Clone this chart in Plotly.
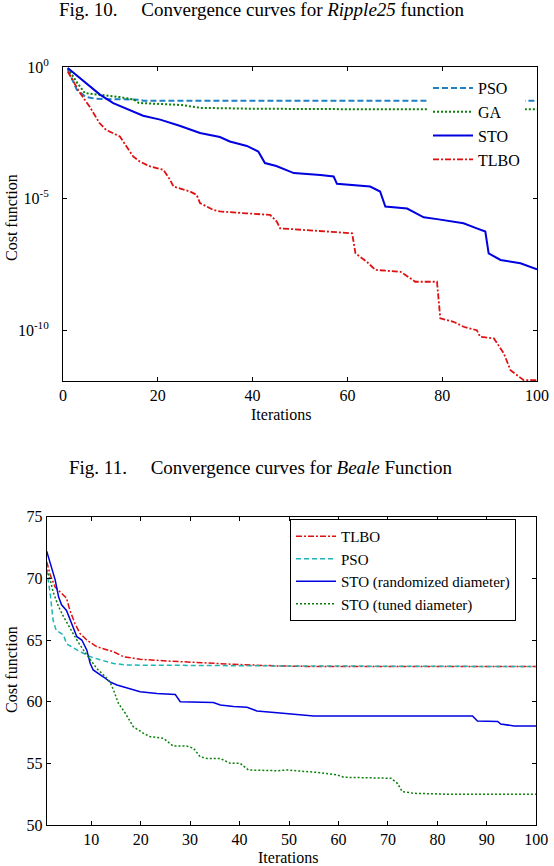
import plotly.graph_objects as go

# ---- Fig. 10: Ripple25 (log scale cost) ----
pso_it = [1, 2.9, 4.8, 7, 16, 17, 100]
pso_cost = [0.83, 0.138, 0.0724, 0.0617, 0.0575, 0.0525, 0.0525]

ga_it = [1, 3, 4.6, 8, 12, 15, 16, 25, 29, 40, 60, 100]
ga_cost = [0.9, 0.25, 0.102, 0.087, 0.072, 0.0575, 0.043, 0.036, 0.028, 0.026, 0.025, 0.025]

sto_it = [1, 3.6, 5.6, 7.8, 10.6, 13.4, 16.9, 20.5, 24.6, 28.9, 33.1, 35.2, 38.8,
          41.2, 42.6, 45, 48.7, 54.3, 57.1, 57.8, 64.8, 66.9, 68, 72.6, 76.1, 78.9,
          84.5, 87.3, 89.1, 89.8, 92.3, 96.5, 100]
sto_cost = [0.912, 0.380, 0.182, 0.0891, 0.0427, 0.0257, 0.0141, 0.0100, 5.89e-3,
            3.09e-3, 2.19e-3, 1.48e-3, 1.0e-3, 6.17e-4, 2.24e-4, 1.74e-4, 9.33e-5,
            7.94e-5, 6.92e-5, 3.63e-5, 2.88e-5, 1.86e-5, 5.01e-6, 4.17e-6, 1.95e-6,
            1.66e-6, 1.15e-6, 7.41e-7, 5.62e-7, 8.32e-8, 4.68e-8, 3.47e-8, 2.04e-8]

tlbo_it = [1, 3.6, 5.6, 7.7, 9.1, 12, 13.4, 14.8, 16.2, 18.4, 21.2, 22.6, 23.3, 26.8,
           28.2, 28.9, 31.7, 33.1, 38.8, 43.7, 45.1, 45.8, 56.4, 61, 61.7, 64.1, 65.9,
           71.2, 73.3, 74.3, 78.9, 79.6, 82.4, 84.5, 87.3, 88, 90.9, 93, 94.4, 97.2, 100]
tlbo_cost = [0.676, 0.102, 0.0316, 7.41e-3, 4.07e-3, 2.29e-3, 9.55e-4, 3.98e-4, 2.57e-4,
             1.66e-4, 1.23e-4, 5.13e-5, 2.88e-5, 1.86e-5, 1.38e-5, 6.76e-6, 3.72e-6,
             3.24e-6, 2.75e-6, 2.40e-6, 1.35e-6, 7.41e-7, 5.50e-7, 4.79e-7, 8.32e-8,
             3.98e-8, 1.95e-8, 1.66e-8, 9.33e-9, 6.92e-9, 6.92e-9, 2.82e-10, 2.09e-10,
             1.35e-10, 1.0e-10, 5.62e-11, 4.90e-11, 1.32e-11, 3.02e-12, 1.26e-12, 1.26e-12]

top_xticks = [0, 20, 40, 60, 80, 100]
top_yticks = [1, 1e-5, 1e-10]
top_yticktext = ["10<sup>0</sup>", "10<sup>-5</sup>", "10<sup>-10</sup>"]

# ---- Fig. 11: Beale ----
b_tlbo_it = [1, 1.7, 2.7, 3.7, 5, 5.7, 6.7, 7.7, 9.1, 11.1, 14.5, 16.5, 19.9, 25.3,
             32, 38.8, 47.6, 55, 100]
b_tlbo = [71.35, 70.3, 69.3, 68.9, 68.4, 67.4, 66.35, 65.55, 65.0, 64.46, 64.05,
          63.65, 63.44, 63.3, 63.16, 63.03, 62.9, 62.85, 62.85]

b_pso_it = [1, 1.7, 2.3, 2.9, 4.4, 5, 7.1, 9.8, 11.8, 14.5, 17.2, 47.6, 100]
b_pso = [70.7, 68.8, 66.6, 65.8, 65.4, 64.7, 64.2, 63.65, 63.4, 63.1, 62.97, 62.9, 62.85]

b_rand_it = [1, 2, 2.7, 3.4, 4, 5, 6.1, 7.1, 8.1, 9.1, 9.8, 10.4, 12.5, 13.8, 15.2,
             17.9, 19.9, 23.3, 27, 28, 34.7, 36.1, 38.8, 41.5, 43.5, 47.6, 51.7, 55,
             87.1, 88.1, 92.2, 92.8, 95.5, 100]
b_rand = [72.2, 70.95, 69.9, 68.5, 67.85, 67.4, 66.35, 65.27, 65.0, 64.2, 63.1, 62.57,
          62.0, 61.6, 61.35, 61.0, 60.8, 60.67, 60.58, 60.0, 59.93, 59.73, 59.6, 59.55,
          59.25, 59.1, 58.97, 58.84, 58.84, 58.43, 58.4, 58.19, 58.03, 58.03]

b_tuned_it = [1, 1.7, 2.3, 3.4, 4.4, 5.7, 7.1, 8.4, 9.8, 11.1, 12.5, 13.8, 14.5, 15.5,
              16.9, 18.5, 20.6, 21.9, 24.6, 26.6, 29.3, 30.7, 32, 33.4, 36.1, 38.1,
              40.1, 41.8, 47.6, 49.6, 56.4, 59.8, 61.1, 70.6, 71.9, 72.9, 75.3, 82.7, 100]
b_tuned = [70.7, 69.9, 68.9, 67.7, 66.9, 65.95, 65.0, 64.2, 63.4, 62.7, 62.17, 61.6,
           60.95, 59.87, 59.06, 57.97, 57.43, 57.16, 57.03, 56.4, 56.4, 56.22, 55.54,
           55.4, 55.4, 55.0, 55.0, 54.46, 54.4, 54.46, 54.24, 54.05, 53.87, 53.79,
           53.38, 52.7, 52.57, 52.49, 52.49]

bot_xticks = [10, 20, 30, 40, 50, 60, 70, 80, 90, 100]
bot_yticks = [50, 55, 60, 65, 70, 75]

W, H = 554, 866
serif = "Liberation Serif"


def px(x):
    return x / W


def py(y):
    return (H - y) / H


fig = go.Figure()

fig.add_trace(go.Scatter(x=pso_it, y=pso_cost, name="PSO", mode="lines",
                         line=dict(color="#1f7fc2", width=2, dash="6px,3px"),
                         xaxis="x", yaxis="y", legend="legend"))
fig.add_trace(go.Scatter(x=ga_it, y=ga_cost, name="GA", mode="lines",
                         line=dict(color="#0a800a", width=2, dash="2px,2px"),
                         xaxis="x", yaxis="y", legend="legend"))
fig.add_trace(go.Scatter(x=sto_it, y=sto_cost, name="STO", mode="lines",
                         line=dict(color="#0000e0", width=2),
                         xaxis="x", yaxis="y", legend="legend"))
fig.add_trace(go.Scatter(x=tlbo_it, y=tlbo_cost, name="TLBO", mode="lines",
                         line=dict(color="#e01010", width=1.8, dash="6px,2px,2px,2px"),
                         xaxis="x", yaxis="y", legend="legend"))

fig.add_trace(go.Scatter(x=b_tlbo_it, y=b_tlbo, name="TLBO", mode="lines",
                         line=dict(color="#e01010", width=1.5, dash="6px,2px,2px,2px"),
                         xaxis="x2", yaxis="y2", legend="legend2"))
fig.add_trace(go.Scatter(x=b_pso_it, y=b_pso, name="PSO", mode="lines",
                         line=dict(color="#1cb4b4", width=1.5, dash="5px,3px"),
                         xaxis="x2", yaxis="y2", legend="legend2"))
fig.add_trace(go.Scatter(x=b_rand_it, y=b_rand, name="STO (randomized diameter)", mode="lines",
                         line=dict(color="#0000e0", width=1.5),
                         xaxis="x2", yaxis="y2", legend="legend2"))
fig.add_trace(go.Scatter(x=b_tuned_it, y=b_tuned, name="STO (tuned diameter)", mode="lines",
                         line=dict(color="#0a800a", width=1.5, dash="2px,2px"),
                         xaxis="x2", yaxis="y2", legend="legend2"))

axis_style = dict(showline=True, linecolor="black", linewidth=1, mirror="ticks",
                  ticks="inside", ticklen=4, tickcolor="black", showgrid=False,
                  zeroline=False, automargin=False,
                  tickfont=dict(family=serif, size=16, color="black"))

fig.update_layout(
    template="none",
    width=W, height=H,
    margin=dict(l=0, r=0, t=0, b=0, pad=0),
    paper_bgcolor="white", plot_bgcolor="white",
    font=dict(family=serif, color="black"),
    xaxis=dict(domain=[px(63), px(537)], anchor="y", range=[0, 100],
               tickvals=top_xticks, **axis_style),
    yaxis=dict(domain=[py(381), py(67)], anchor="x", type="log",
               range=[-11.93, 0], tickvals=top_yticks, ticktext=top_yticktext,
               ticklabelstandoff=10, **axis_style),
    xaxis2=dict(domain=[px(46.7), px(536.3)], anchor="y2", range=[1, 100],
                tickvals=bot_xticks, **axis_style),
    yaxis2=dict(domain=[py(825), py(516.7)], anchor="x2", range=[50, 75],
                tickvals=bot_yticks, **axis_style),
    legend=dict(x=px(428), y=py(71), xanchor="left", yanchor="top",
                bgcolor="white", borderwidth=0, itemwidth=40,
                font=dict(family=serif, size=16, color="black")),
    legend2=dict(x=px(290), y=py(519), xanchor="left", yanchor="top",
                 bgcolor="white", bordercolor="black", borderwidth=1, itemwidth=40,
                 font=dict(family=serif, size=15, color="black")),
)

sp = "\u00a0" * 5
fig.add_annotation(text="Fig. 10." + sp + "Convergence curves for <i>Ripple25</i> function",
                   x=px(261), y=py(10), xref="paper", yref="paper",
                   yanchor="middle", showarrow=False,
                   font=dict(family=serif, size=19, color="black"))
fig.add_annotation(text="Fig. 11." + sp + "Convergence curves for <i>Beale</i> Function",
                   x=px(261), y=py(468), xref="paper", yref="paper",
                   yanchor="middle", showarrow=False,
                   font=dict(family=serif, size=19, color="black"))

for yy in [218, 670]:
    fig.add_annotation(text="Cost function", x=px(11), y=py(yy),
                       xref="paper", yref="paper", showarrow=False, textangle=-90,
                       xanchor="center", yanchor="middle",
                       font=dict(family=serif, size=16, color="black"))
for xx, yy in [(281, 415), (288, 857)]:
    fig.add_annotation(text="Iterations", x=px(xx), y=py(yy),
                       xref="paper", yref="paper", showarrow=False,
                       xanchor="center", yanchor="middle",
                       font=dict(family=serif, size=16, color="black"))

conf = {"displayModeBar": False}

# drop the default 8px body margin so the figure sits at the page corner
fig.write_html("out.html", config=conf,
               post_script="document.body.style.margin = '0px';")
